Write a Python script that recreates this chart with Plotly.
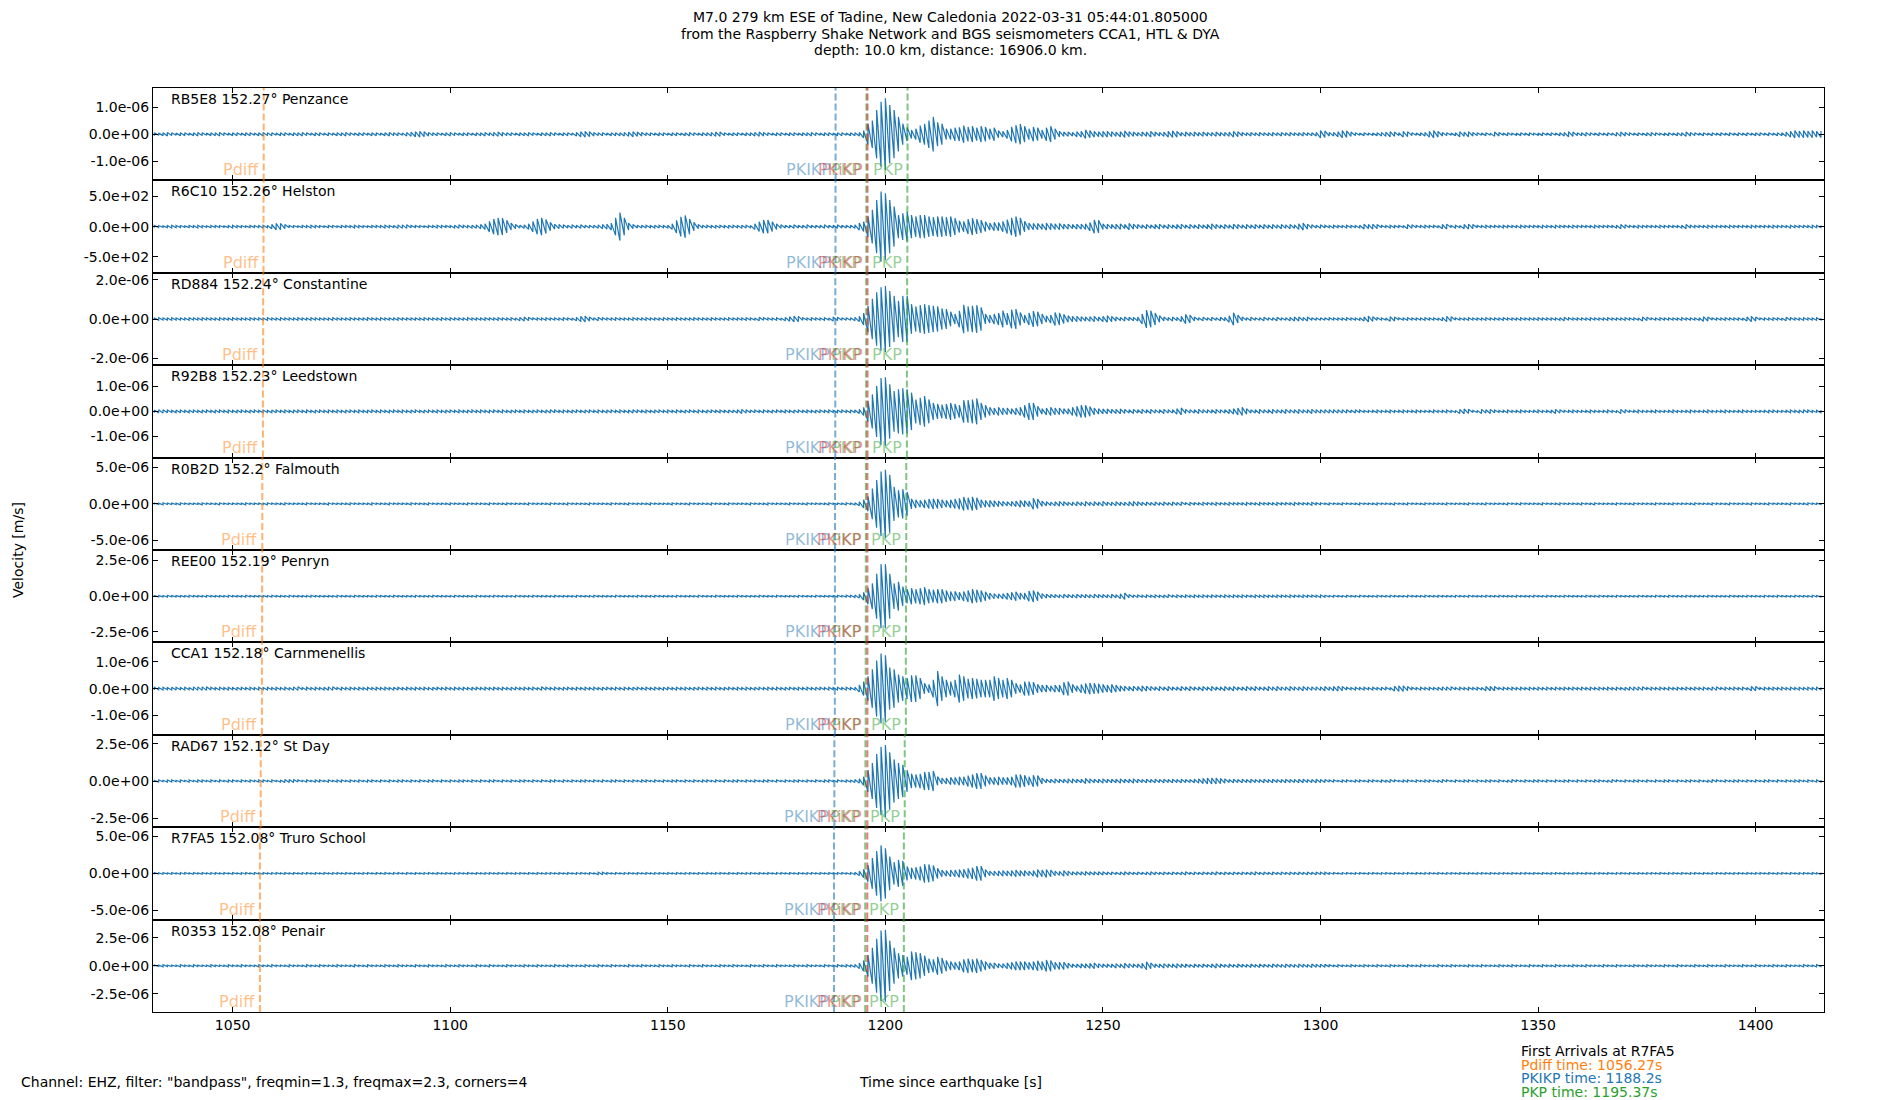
import numpy as np
import plotly.graph_objects as go
from plotly.subplots import make_subplots

# envelope samples every second, starting at T0 (seconds since the earthquake)
T0 = 1032
DT = 1

stations = ["RB5E8", "R6C10", "RD884", "R92B8", "R0B2D", "REE00", "CCA1", "RAD67", "R7FA5", "R0353"]
distances = [152.27, 152.26, 152.24, 152.23, 152.2, 152.19, 152.18, 152.12, 152.08, 152.08]
places = ["Penzance", "Helston", "Constantine", "Leedstown", "Falmouth", "Penryn",
          "Carnmenellis", "St Day", "Truro School", "Penair"]

# peak amplitude of each trace, and the y limit / tick step used on its panel
peak_amp = [1.34e-6, 578, 1.68e-6, 1.37e-6, 4.69e-6, 2.24e-6, 1.31e-6, 2.43e-6, 3.78e-6, 3.22e-6]
y_limits = [1.72e-6, 762, 2.35e-6, 1.86e-6, 6.36e-6, 3.23e-6, 1.73e-6, 3.12e-6, 6.24e-6, 4.14e-6]
y_ticks = [1e-6, 500, 2e-6, 1e-6, 5e-6, 2.5e-6, 1e-6, 2.5e-6, 5e-6, 2.5e-6]

# predicted arrival times per station [s]
pdiff_times = [1057.14, 1057.10, 1057.01, 1056.96, 1056.82, 1056.78, 1056.73, 1056.45, 1056.27, 1056.27]
pkikp_times = [1188.56, 1188.54, 1188.50, 1188.49, 1188.43, 1188.41, 1188.39, 1188.28, 1188.2, 1188.2]
pkikp2_times = [1195.9, 1195.9, 1195.9, 1195.9, 1195.88, 1195.88, 1195.88, 1195.87, 1195.85, 1195.85]
pkp_times = [1195.65, 1195.63, 1195.6, 1195.58, 1195.53, 1195.5, 1195.48, 1195.42, 1195.37, 1195.37]
pkp2_times = [1205.1, 1205.05, 1205.0, 1204.95, 1204.8, 1204.75, 1204.7, 1204.45, 1204.25, 1204.25]

x_ticks = [1050, 1100, 1150, 1200, 1250, 1300, 1350, 1400]
x_range = [1031.7, 1415.7]

# trace envelopes, percent of the peak amplitude, one row = 20 s
env_rb5e8 = [
    4,3,4,5,4,3,4,4,3,4,5,4,3,4,4,5,4,3,4,4,
    3,4,4,3,4,5,4,4,3,4,4,3,4,4,5,4,3,4,4,3,
    4,3,4,4,5,4,3,4,4,3,4,4,3,4,5,4,4,3,5,6,
    7,8,7,5,4,4,3,4,5,4,3,4,4,3,4,4,5,4,5,6,
    5,4,4,3,4,4,5,4,3,4,4,5,4,3,4,4,3,5,7,8,
    7,5,4,4,3,4,4,4,5,6,7,6,5,4,4,3,4,4,3,4,
    4,3,4,5,4,3,4,4,5,6,6,4,3,4,4,3,4,4,5,6,
    5,4,3,4,4,3,4,4,3,4,4,5,4,3,4,4,3,4,4,3,
    4,4,5,10,29,38,67,90,100,81,67,48,29,19,12,15,24,29,38,48,
    33,29,15,15,18,19,24,20,22,18,22,20,15,18,10,8,12,20,25,28,
    22,15,20,18,12,18,22,15,8,6,6,5,7,8,12,10,8,7,8,8,
    7,6,7,9,7,6,5,6,6,8,6,5,6,8,9,8,5,6,5,6,
    5,6,5,5,6,5,5,6,8,7,5,4,5,4,5,4,4,5,4,5,
    4,5,4,4,5,4,4,5,10,9,5,5,7,10,9,6,4,3,4,3,
    3,4,5,6,7,6,4,8,7,4,3,4,5,8,10,8,5,4,3,4,
    7,6,7,5,4,3,4,3,6,5,3,4,3,3,4,3,4,3,3,4,
    3,4,3,4,5,7,6,4,4,5,4,3,4,3,4,3,5,6,5,4,
    3,4,3,4,5,4,3,3,4,3,4,4,6,5,4,3,4,3,4,3,
    4,3,4,3,4,3,4,3,4,4,3,4,3,4,4,6,8,10,9,10,
    9,10,8,9,
]
env_r6c10 = [
    3,3,2,3,4,3,3,2,3,3,4,3,2,3,3,3,2,3,4,3,
    3,2,3,3,3,4,3,6,9,9,6,3,3,2,3,3,4,3,3,2,
    3,3,2,3,3,3,4,3,3,2,3,3,3,4,3,3,5,5,5,3,
    3,3,2,3,3,4,3,3,3,4,5,4,3,4,5,6,8,15,22,25,
    24,18,10,6,4,5,8,15,22,25,20,12,7,6,5,4,5,4,5,4,
    4,4,5,6,7,10,25,40,25,10,6,4,4,4,3,4,4,3,4,8,
    18,28,32,22,12,6,4,4,3,4,4,3,4,4,3,4,4,3,8,14,
    19,19,14,8,5,4,4,5,4,4,5,4,4,4,5,4,4,5,4,4,
    4,5,10,14,29,48,76,100,95,76,57,33,38,42,33,29,33,33,29,27,
    29,29,27,29,24,17,15,21,24,21,18,14,10,12,12,15,20,25,29,25,
    15,10,9,9,8,10,9,8,9,7,7,6,7,7,8,12,19,18,8,7,
    6,7,8,6,9,7,6,5,6,5,6,7,5,6,5,6,7,5,6,5,
    6,5,6,8,6,5,6,5,7,6,5,6,5,6,5,6,5,6,5,6,
    5,6,5,8,10,7,5,4,5,4,3,4,3,3,4,3,3,4,7,6,
    7,6,3,3,4,3,3,3,6,5,3,3,4,3,3,3,6,7,3,4,
    3,6,7,6,3,3,4,3,3,3,4,3,3,3,4,3,3,3,3,4,
    3,3,4,3,3,3,4,3,3,3,3,4,3,3,3,3,4,6,5,3,
    3,4,3,3,3,3,4,3,3,3,3,4,6,4,3,3,3,4,3,3,
    3,3,4,3,3,3,3,4,3,3,3,3,4,3,3,3,4,3,3,3,
    3,4,3,3,
]
env_rd884 = [
    3,4,3,3,4,3,3,3,4,3,3,4,3,3,3,4,3,3,4,3,
    3,3,4,3,3,3,4,3,3,4,3,3,3,4,3,3,4,3,3,3,
    3,4,3,3,3,4,3,3,3,4,3,3,4,3,3,3,4,3,3,3,
    3,3,4,3,3,3,4,3,4,3,3,3,4,3,3,3,4,3,3,4,
    3,3,4,3,5,6,5,3,3,3,4,3,3,3,4,3,3,5,8,9,
    6,4,5,4,3,3,4,3,3,3,4,3,3,4,3,3,3,4,3,3,
    4,3,3,3,4,3,3,3,4,3,3,3,4,3,3,3,4,3,3,5,
    4,3,3,4,3,5,7,9,8,4,3,4,3,3,4,3,6,5,4,4,
    4,5,8,18,40,61,81,96,100,85,70,55,70,70,45,38,42,45,42,40,
    38,32,30,22,15,25,43,38,40,42,35,15,12,15,18,25,18,28,30,20,
    12,18,24,22,15,10,12,20,18,14,10,8,8,7,6,7,8,6,8,10,
    8,6,5,6,5,5,6,15,27,25,18,10,6,5,6,5,8,14,12,6,
    4,5,4,5,4,5,5,10,19,12,6,4,5,4,4,5,4,4,5,4,
    4,5,6,6,5,6,4,4,4,4,4,3,3,3,4,3,3,4,6,9,
    7,4,3,3,7,6,3,3,4,3,3,3,4,3,3,3,5,8,7,3,
    3,3,4,3,3,3,4,3,3,3,4,3,3,3,4,3,3,3,4,3,
    3,3,3,4,5,4,3,3,3,3,4,3,3,3,4,3,3,3,4,3,
    3,3,6,5,3,3,4,3,3,3,3,4,3,3,3,4,7,6,3,3,
    3,4,3,3,3,3,6,8,6,3,3,3,4,3,3,5,4,3,3,4,
    3,3,4,3,
]
env_r92b8 = [
    4,5,5,4,3,4,4,3,4,4,3,4,4,3,4,4,3,4,3,4,
    4,3,4,4,3,4,3,4,4,3,4,3,4,4,3,4,3,4,4,3,
    4,3,4,3,4,4,3,4,3,4,4,3,4,3,4,4,3,4,3,4,
    4,3,4,4,3,4,3,4,4,3,4,3,4,4,3,4,3,4,4,3,
    4,3,4,4,3,4,3,4,4,3,4,5,4,3,4,3,4,4,3,4,
    4,3,4,3,4,4,3,4,3,4,5,4,3,4,3,4,4,3,4,3,
    4,3,4,4,3,4,3,4,4,3,4,3,4,4,5,6,5,4,4,3,
    4,3,4,4,3,4,3,4,4,3,4,3,4,4,3,4,3,4,4,3,
    4,4,6,12,30,50,75,98,100,80,60,65,68,65,55,35,40,45,35,25,
    22,20,22,25,22,18,33,33,35,38,25,18,12,10,12,10,10,8,10,12,
    18,25,25,15,8,10,12,10,10,8,8,12,15,18,18,14,10,8,7,7,
    6,6,7,6,5,6,5,6,5,6,5,5,6,5,5,8,10,6,5,5,
    6,5,5,5,6,5,5,6,8,10,12,8,5,5,6,5,5,6,5,5,
    6,5,5,6,5,5,6,5,5,5,5,5,5,5,5,4,5,4,3,3,
    3,4,3,3,4,3,3,4,3,3,4,3,3,3,4,3,3,4,3,3,
    6,7,6,3,3,6,5,6,4,3,3,4,3,3,4,3,3,3,4,3,
    3,4,6,5,3,3,4,3,3,3,4,3,3,3,4,3,3,6,5,3,
    3,4,3,3,3,4,3,3,3,4,3,3,3,4,3,3,3,4,3,3,
    3,4,3,3,3,4,3,3,3,3,3,4,4,3,3,3,4,3,4,5,
    4,3,3,4,
]
env_r0b2d = [
    2,2,3,2,2,2,3,2,2,2,2,3,2,2,2,3,2,2,2,2,
    2,3,2,2,2,2,3,2,2,2,3,2,2,2,2,3,2,2,2,2,
    3,2,2,2,2,3,2,2,2,2,3,2,2,2,3,2,2,2,2,3,
    2,2,2,3,2,2,2,2,3,2,2,2,3,2,2,2,2,3,2,2,
    2,3,2,2,2,2,3,2,2,2,2,3,2,2,2,3,2,2,2,2,
    3,2,2,2,2,3,2,2,2,3,2,2,2,2,3,2,2,2,2,3,
    2,2,2,3,2,2,2,2,3,2,2,2,3,2,2,2,2,3,2,2,
    2,3,2,2,2,2,3,2,2,2,3,2,2,2,2,3,2,2,2,3,
    2,3,6,12,22,45,70,95,100,85,50,40,43,35,15,12,10,12,14,15,
    14,12,10,12,14,16,20,18,20,18,12,10,10,9,8,7,6,7,8,10,
    9,8,16,14,8,6,5,6,7,6,5,5,6,5,7,5,6,5,7,5,
    5,6,5,5,6,7,6,5,5,4,5,4,5,4,5,4,5,3,4,3,
    3,4,3,3,4,3,3,4,3,3,3,4,3,3,4,3,3,3,4,3,
    3,3,4,3,3,3,4,3,3,2,3,2,2,3,2,2,2,3,2,2,
    2,3,2,2,2,3,2,2,3,2,2,2,3,2,2,2,2,3,2,2,
    2,2,3,2,2,2,3,2,2,2,2,3,2,2,3,2,2,2,2,3,
    2,2,2,3,2,2,2,2,3,2,2,3,2,2,2,2,3,2,2,2,
    3,2,2,2,2,3,2,2,2,3,2,2,2,2,3,2,2,2,3,2,
    2,2,3,2,2,2,2,3,2,2,2,3,2,2,2,2,3,2,2,2,
    3,2,2,2,
]
env_ree00 = [
    2,2,2,3,2,2,2,2,3,2,2,2,3,2,2,2,2,3,2,2,
    2,3,2,2,2,2,2,3,2,2,2,3,2,2,2,2,3,2,2,2,
    2,2,3,2,2,2,3,2,2,2,2,3,2,2,2,3,2,2,2,2,
    3,2,2,2,3,2,2,2,2,3,2,2,2,2,3,2,2,2,3,2,
    2,2,2,3,2,2,2,3,2,2,2,2,3,2,2,2,2,3,2,2,
    2,3,2,2,2,2,3,2,2,2,2,3,2,2,2,3,2,2,2,2,
    3,2,2,2,2,3,2,2,2,3,2,2,2,2,3,2,2,2,2,3,
    2,2,2,3,2,2,2,2,3,2,2,2,3,2,2,2,2,3,2,3,
    3,4,6,12,25,40,70,100,100,70,40,45,30,22,25,22,25,28,22,20,
    22,22,18,15,15,12,15,18,22,20,18,14,10,8,7,8,10,12,14,10,
    10,16,18,14,8,6,5,5,5,6,5,5,6,5,5,5,6,5,5,5,
    6,5,7,10,5,4,4,3,4,3,4,3,4,5,3,4,3,4,3,4,
    3,4,3,4,3,3,4,3,4,3,4,3,3,4,3,4,3,3,4,3,
    3,4,3,3,4,3,3,3,4,3,2,3,2,2,3,2,2,3,2,2,
    2,3,2,2,3,2,2,2,3,2,2,2,3,2,2,3,2,2,2,3,
    2,2,3,2,2,2,3,2,2,3,2,2,2,3,2,2,2,3,2,2,
    3,2,2,2,3,2,2,2,2,3,2,2,3,2,2,2,3,2,2,2,
    2,3,2,2,2,3,2,2,3,2,2,2,3,2,2,2,2,3,2,2,
    2,2,3,2,2,2,3,2,2,2,3,2,2,3,2,2,2,3,2,2,
    2,3,2,2,
]
env_cca1 = [
    4,3,4,3,4,4,3,4,3,5,5,5,5,4,3,4,3,4,3,4,
    4,3,4,3,4,3,4,3,4,3,4,3,5,5,3,4,3,4,3,4,
    5,5,3,4,3,4,3,4,3,4,3,4,3,4,3,4,4,3,4,3,
    4,3,4,3,4,4,3,4,3,4,3,4,3,4,4,3,4,3,4,3,
    4,3,4,4,3,4,3,4,3,5,4,3,4,3,4,4,3,4,3,4,
    3,4,3,4,4,3,4,3,4,3,4,4,3,4,3,4,3,4,4,3,
    4,3,4,3,4,4,3,4,3,4,3,4,4,3,4,3,4,3,4,4,
    3,4,3,4,3,4,4,3,4,3,4,3,4,4,3,4,3,4,3,4,
    3,4,10,20,35,55,80,100,95,60,55,40,35,30,38,38,30,15,12,25,
    50,35,25,20,25,40,35,28,30,28,25,25,25,35,30,25,30,25,15,12,
    20,20,18,12,10,10,8,10,10,18,20,12,8,12,15,16,15,14,12,10,
    12,10,8,7,6,7,6,8,7,6,5,6,5,6,5,5,6,5,6,5,
    5,6,5,6,5,5,6,5,6,5,5,6,5,6,5,5,6,5,6,5,
    5,6,5,5,6,5,5,5,5,6,5,6,7,6,4,3,4,3,4,3,
    4,3,4,4,3,7,8,8,6,4,3,4,3,4,3,4,5,5,5,3,
    4,3,4,3,4,3,6,6,6,3,4,3,4,3,4,3,4,3,4,3,
    4,3,4,3,4,3,4,3,4,3,4,3,4,3,4,3,4,3,4,5,
    5,5,5,3,4,3,4,3,4,3,4,3,4,3,4,3,4,3,5,5,
    3,4,3,4,3,4,3,6,6,3,4,3,4,3,4,3,4,3,4,3,
    4,3,4,3,
]
env_rad67 = [
    2,3,2,3,3,2,3,2,3,2,3,3,2,3,2,3,2,3,3,2,
    3,2,3,2,3,3,2,3,2,3,4,4,4,3,2,3,2,3,3,2,
    3,2,3,3,2,3,2,3,2,3,3,2,3,2,3,2,3,3,2,3,
    2,3,2,3,3,2,3,2,3,2,3,3,2,3,2,3,2,3,3,2,
    3,2,3,2,3,3,2,3,2,3,2,3,3,2,3,2,3,2,3,3,
    2,3,2,3,2,3,3,2,3,2,3,2,3,3,2,3,2,3,2,3,
    3,2,3,2,3,2,3,3,2,3,2,3,2,3,3,2,3,2,3,2,
    3,3,2,3,2,3,2,3,3,2,3,2,3,2,3,3,2,3,2,3,
    3,4,6,12,30,50,75,95,100,80,60,50,45,30,20,18,20,25,25,28,
    12,8,8,10,10,12,12,15,18,22,22,15,10,10,12,10,10,12,18,18,
    16,12,16,15,8,5,5,6,5,5,6,6,5,5,7,6,5,5,6,5,
    5,5,6,5,5,6,5,4,5,4,5,4,5,4,5,4,5,4,4,5,
    6,7,8,8,8,7,6,4,5,4,5,4,5,4,4,5,4,5,4,4,
    5,4,4,5,5,4,4,5,4,4,3,3,2,3,3,2,3,3,2,3,
    3,2,3,3,4,3,2,3,3,2,3,2,3,3,2,3,4,3,2,3,
    2,3,3,2,3,2,3,3,2,3,2,3,4,3,2,3,2,3,3,2,
    3,2,3,2,3,3,2,3,2,3,2,3,3,2,3,4,3,2,3,2,
    3,3,2,3,2,3,2,3,3,2,3,2,3,3,2,3,2,3,4,3,
    2,3,2,3,3,2,3,2,3,2,3,3,2,3,2,3,2,3,3,2,
    3,2,3,3,
]
env_r7fa5 = [
    3,2,3,2,3,2,3,3,2,3,2,3,2,3,3,2,3,2,3,2,
    3,3,2,3,2,3,2,3,3,2,3,2,3,2,3,3,2,3,2,3,
    2,3,3,2,3,2,3,2,3,3,2,3,2,3,2,3,3,2,3,2,
    3,2,3,3,2,3,2,3,2,3,3,2,3,2,3,2,3,3,2,3,
    2,3,2,3,3,2,3,2,3,2,3,3,2,3,2,3,2,3,3,2,
    3,2,4,4,3,2,3,2,3,3,2,3,2,3,2,3,3,2,3,2,
    3,2,3,3,2,3,2,3,2,3,3,2,3,2,3,2,3,3,2,3,
    2,3,2,3,3,2,3,2,3,2,3,3,2,3,2,3,2,3,3,2,
    3,4,8,15,30,55,80,100,90,60,40,48,45,25,20,22,25,33,32,28,
    18,12,10,12,12,14,15,18,20,26,26,14,8,8,9,10,9,10,12,10,
    10,8,10,14,12,14,12,8,7,10,8,6,6,6,7,6,6,6,6,5,
    5,4,5,6,5,4,5,4,5,6,5,4,5,4,5,4,5,6,4,5,
    4,5,4,5,6,4,5,4,5,4,5,4,5,6,4,5,4,5,4,5,
    4,5,4,5,4,5,4,5,4,4,3,3,2,3,3,2,3,3,2,3,
    3,2,3,3,2,3,2,3,3,2,3,2,3,3,2,3,2,3,3,2,
    3,2,3,2,3,3,2,3,2,3,3,2,3,2,3,3,2,3,2,3,
    2,3,3,2,3,2,3,3,2,3,2,3,3,2,3,2,3,3,2,3,
    2,3,2,3,3,2,3,2,3,3,2,3,2,3,3,2,3,2,3,3,
    2,3,2,3,3,2,3,2,3,3,2,3,2,3,3,2,3,2,3,3,
    2,3,2,3,
]
env_r0353 = [
    2,2,3,2,2,2,3,2,2,3,2,2,2,3,2,2,2,3,2,2,
    3,2,2,2,3,2,2,3,2,2,2,3,2,2,2,3,2,2,3,2,
    2,2,3,2,2,2,3,2,2,3,2,2,2,3,2,2,3,2,2,2,
    3,2,2,3,2,2,2,3,2,2,3,2,2,2,3,2,2,3,2,2,
    2,3,2,2,2,3,2,2,3,2,2,2,3,2,2,3,2,2,2,3,
    2,2,3,2,2,3,2,2,2,3,2,2,3,2,2,2,3,2,2,3,
    2,2,2,3,2,2,3,2,2,2,3,2,2,3,2,2,2,3,2,2,
    3,2,2,3,2,2,2,3,2,2,3,2,2,2,3,2,2,3,2,3,
    3,4,8,15,30,50,75,98,100,70,50,35,30,25,40,38,35,28,20,18,
    25,22,15,12,10,12,18,20,18,20,16,12,8,8,6,6,8,10,12,12,
    12,10,12,14,12,16,15,10,10,10,7,5,5,6,6,7,8,6,5,5,
    5,6,5,7,6,5,5,7,11,8,5,5,6,5,5,6,5,5,4,5,
    4,5,4,5,6,5,4,5,4,5,4,4,5,4,5,4,4,5,4,4,
    5,4,4,5,4,4,5,4,4,4,3,2,3,2,2,3,2,2,3,2,
    2,3,2,2,3,2,2,2,3,2,2,3,2,2,2,3,2,2,3,2,
    2,2,3,2,2,3,2,2,2,3,2,2,3,2,2,2,3,2,2,3,
    2,2,3,2,2,2,3,2,2,3,2,2,2,3,2,2,3,2,2,2,
    3,2,2,3,2,2,2,3,2,2,3,2,2,2,3,2,2,3,2,2,
    2,3,2,2,2,3,2,2,3,2,2,2,3,2,2,3,2,2,2,3,
    2,2,3,2,
]
envelopes = [env_rb5e8, env_r6c10, env_rd884, env_r92b8, env_r0b2d,
             env_ree00, env_cca1, env_rad67, env_r7fa5, env_r0353]

# page geometry (px, window coordinates) of the stacked plot area;
# the page body adds an 8 px margin, so the figure itself is 8 px smaller each way
PAGE_OFF = 8
W, H = 1900 - PAGE_OFF, 1100 - PAGE_OFF
LEFT, RIGHT, TOP, BOTTOM = 153, 1824, 88, 1012


def px_x(px):
    return (px - LEFT) / (RIGHT - LEFT)


def px_y(py):
    return (BOTTOM - py) / (BOTTOM - TOP)


FONT = "DejaVu Sans"
# green lines first so the red PKiKP line sits on top, as in the original
phases = [
    ("Pdiff", pdiff_times, "255,127,14"),
    ("PKIKP", pkikp_times, "31,119,180"),
    ("PKP", pkp_times, "44,160,44"),
    ("PKP", pkp2_times, "44,160,44"),
    ("PKiKP", pkikp2_times, "214,39,40"),
]

n = len(stations)
fig = make_subplots(rows=n, cols=1, shared_xaxes=True, vertical_spacing=0)

for i in range(n):
    row = i + 1
    amp = np.array(envelopes[i], dtype=float) / 100.0 * peak_amp[i]
    t = T0 + DT * np.arange(len(amp))
    # min/max pair per sample, drawn as one connected line
    xs = np.repeat(t, 2)
    ys = np.column_stack([-amp, amp]).ravel()
    fig.add_trace(go.Scatter(x=xs, y=ys, mode="lines",
                             line=dict(color="#1f77b4", width=1.2),
                             hoverinfo="skip", showlegend=False),
                  row=row, col=1)

    ax = "" if row == 1 else str(row)
    for name, times, rgb in phases:
        tp = times[i]
        fig.add_shape(type="line", xref=f"x{ax}", yref=f"y{ax} domain",
                      x0=tp, x1=tp, y0=0, y1=1,
                      line=dict(color=f"rgba({rgb},0.6)", width=2, dash="7px,3px"))
        fig.add_annotation(xref=f"x{ax}", yref=f"y{ax} domain", x=tp, y=0,
                           text=name, showarrow=False, xanchor="right", yanchor="bottom",
                           xshift=-3, yshift=-1,
                           font=dict(family=FONT, size=16, color=f"rgba({rgb},0.5)"))

    fig.add_annotation(xref=f"x{ax} domain", yref=f"y{ax} domain", x=0.0096, y=1,
                       text=f"{stations[i]} {distances[i]}° {places[i]}",
                       showarrow=False, xanchor="left", yanchor="top", yshift=-1,
                       font=dict(family=FONT, size=14, color="black"))

    v = y_ticks[i]
    fig.update_yaxes(range=[-y_limits[i], y_limits[i]],
                     tickvals=[-v, 0, v],
                     ticktext=[f"{-v:.1e}", f"{0:.1e}", f"{v:.1e}"],
                     row=row, col=1)

fig.update_xaxes(range=x_range, tickvals=x_ticks, ticks="inside", ticklen=5,
                 tickcolor="black", showline=True, linecolor="black", linewidth=1,
                 mirror="ticks", showgrid=False, zeroline=False,
                 tickfont=dict(family=FONT, size=14, color="black"))
fig.update_yaxes(ticks="inside", ticklen=5, tickcolor="black", showline=True,
                 linecolor="black", linewidth=1, mirror="ticks", showgrid=False,
                 zeroline=False, tickfont=dict(family=FONT, size=14, color="black"))

title_lines = [
    "M7.0 279 km ESE of Tadine, New Caledonia 2022-03-31 05:44:01.805000",
    "from the Raspberry Shake Network and BGS seismometers CCA1, HTL & DYA",
    "depth: 10.0 km, distance: 16906.0 km.",
]
for k, line in enumerate(title_lines):
    fig.add_annotation(xref="paper", yref="paper", x=px_x(950), y=px_y(17 + 16.7 * k),
                       text=line, showarrow=False, xanchor="center", yanchor="middle",
                       font=dict(family=FONT, size=14, color="black"))

fig.add_annotation(xref="paper", yref="paper", x=px_x(18), y=px_y(550),
                   text="Velocity [m/s]", textangle=-90, showarrow=False,
                   xanchor="center", yanchor="middle",
                   font=dict(family=FONT, size=14, color="black"))
fig.add_annotation(xref="paper", yref="paper", x=px_x(950), y=px_y(1082),
                   text="Time since earthquake [s]", showarrow=False,
                   xanchor="center", yanchor="middle",
                   font=dict(family=FONT, size=14, color="black"))
fig.add_annotation(xref="paper", yref="paper", x=px_x(19), y=px_y(1082),
                   text='Channel: EHZ, filter: "bandpass", freqmin=1.3, freqmax=2.3, corners=4',
                   showarrow=False, xanchor="left", yanchor="middle",
                   font=dict(family=FONT, size=14, color="black"))

arrivals = [
    ("First Arrivals at R7FA5", "black"),
    (f"Pdiff time: {pdiff_times[8]}s", "#ff7f0e"),
    (f"PKIKP time: {pkikp_times[8]}s", "#1f77b4"),
    (f"PKP time: {pkp_times[8]}s", "#2ca02c"),
]
for k, (line, col) in enumerate(arrivals):
    fig.add_annotation(xref="paper", yref="paper", x=px_x(1519), y=px_y(1051 + 13.7 * k),
                       text=line, showarrow=False, xanchor="left", yanchor="middle",
                       font=dict(family=FONT, size=14, color=col))

fig.update_layout(width=W, height=H,
                  margin=dict(l=LEFT - PAGE_OFF, r=W - (RIGHT - PAGE_OFF),
                              t=TOP - PAGE_OFF, b=H - (BOTTOM - PAGE_OFF)),
                  paper_bgcolor="white", plot_bgcolor="white",
                  font=dict(family=FONT, size=14, color="black"),
                  showlegend=False)

fig.write_html("out.html")
